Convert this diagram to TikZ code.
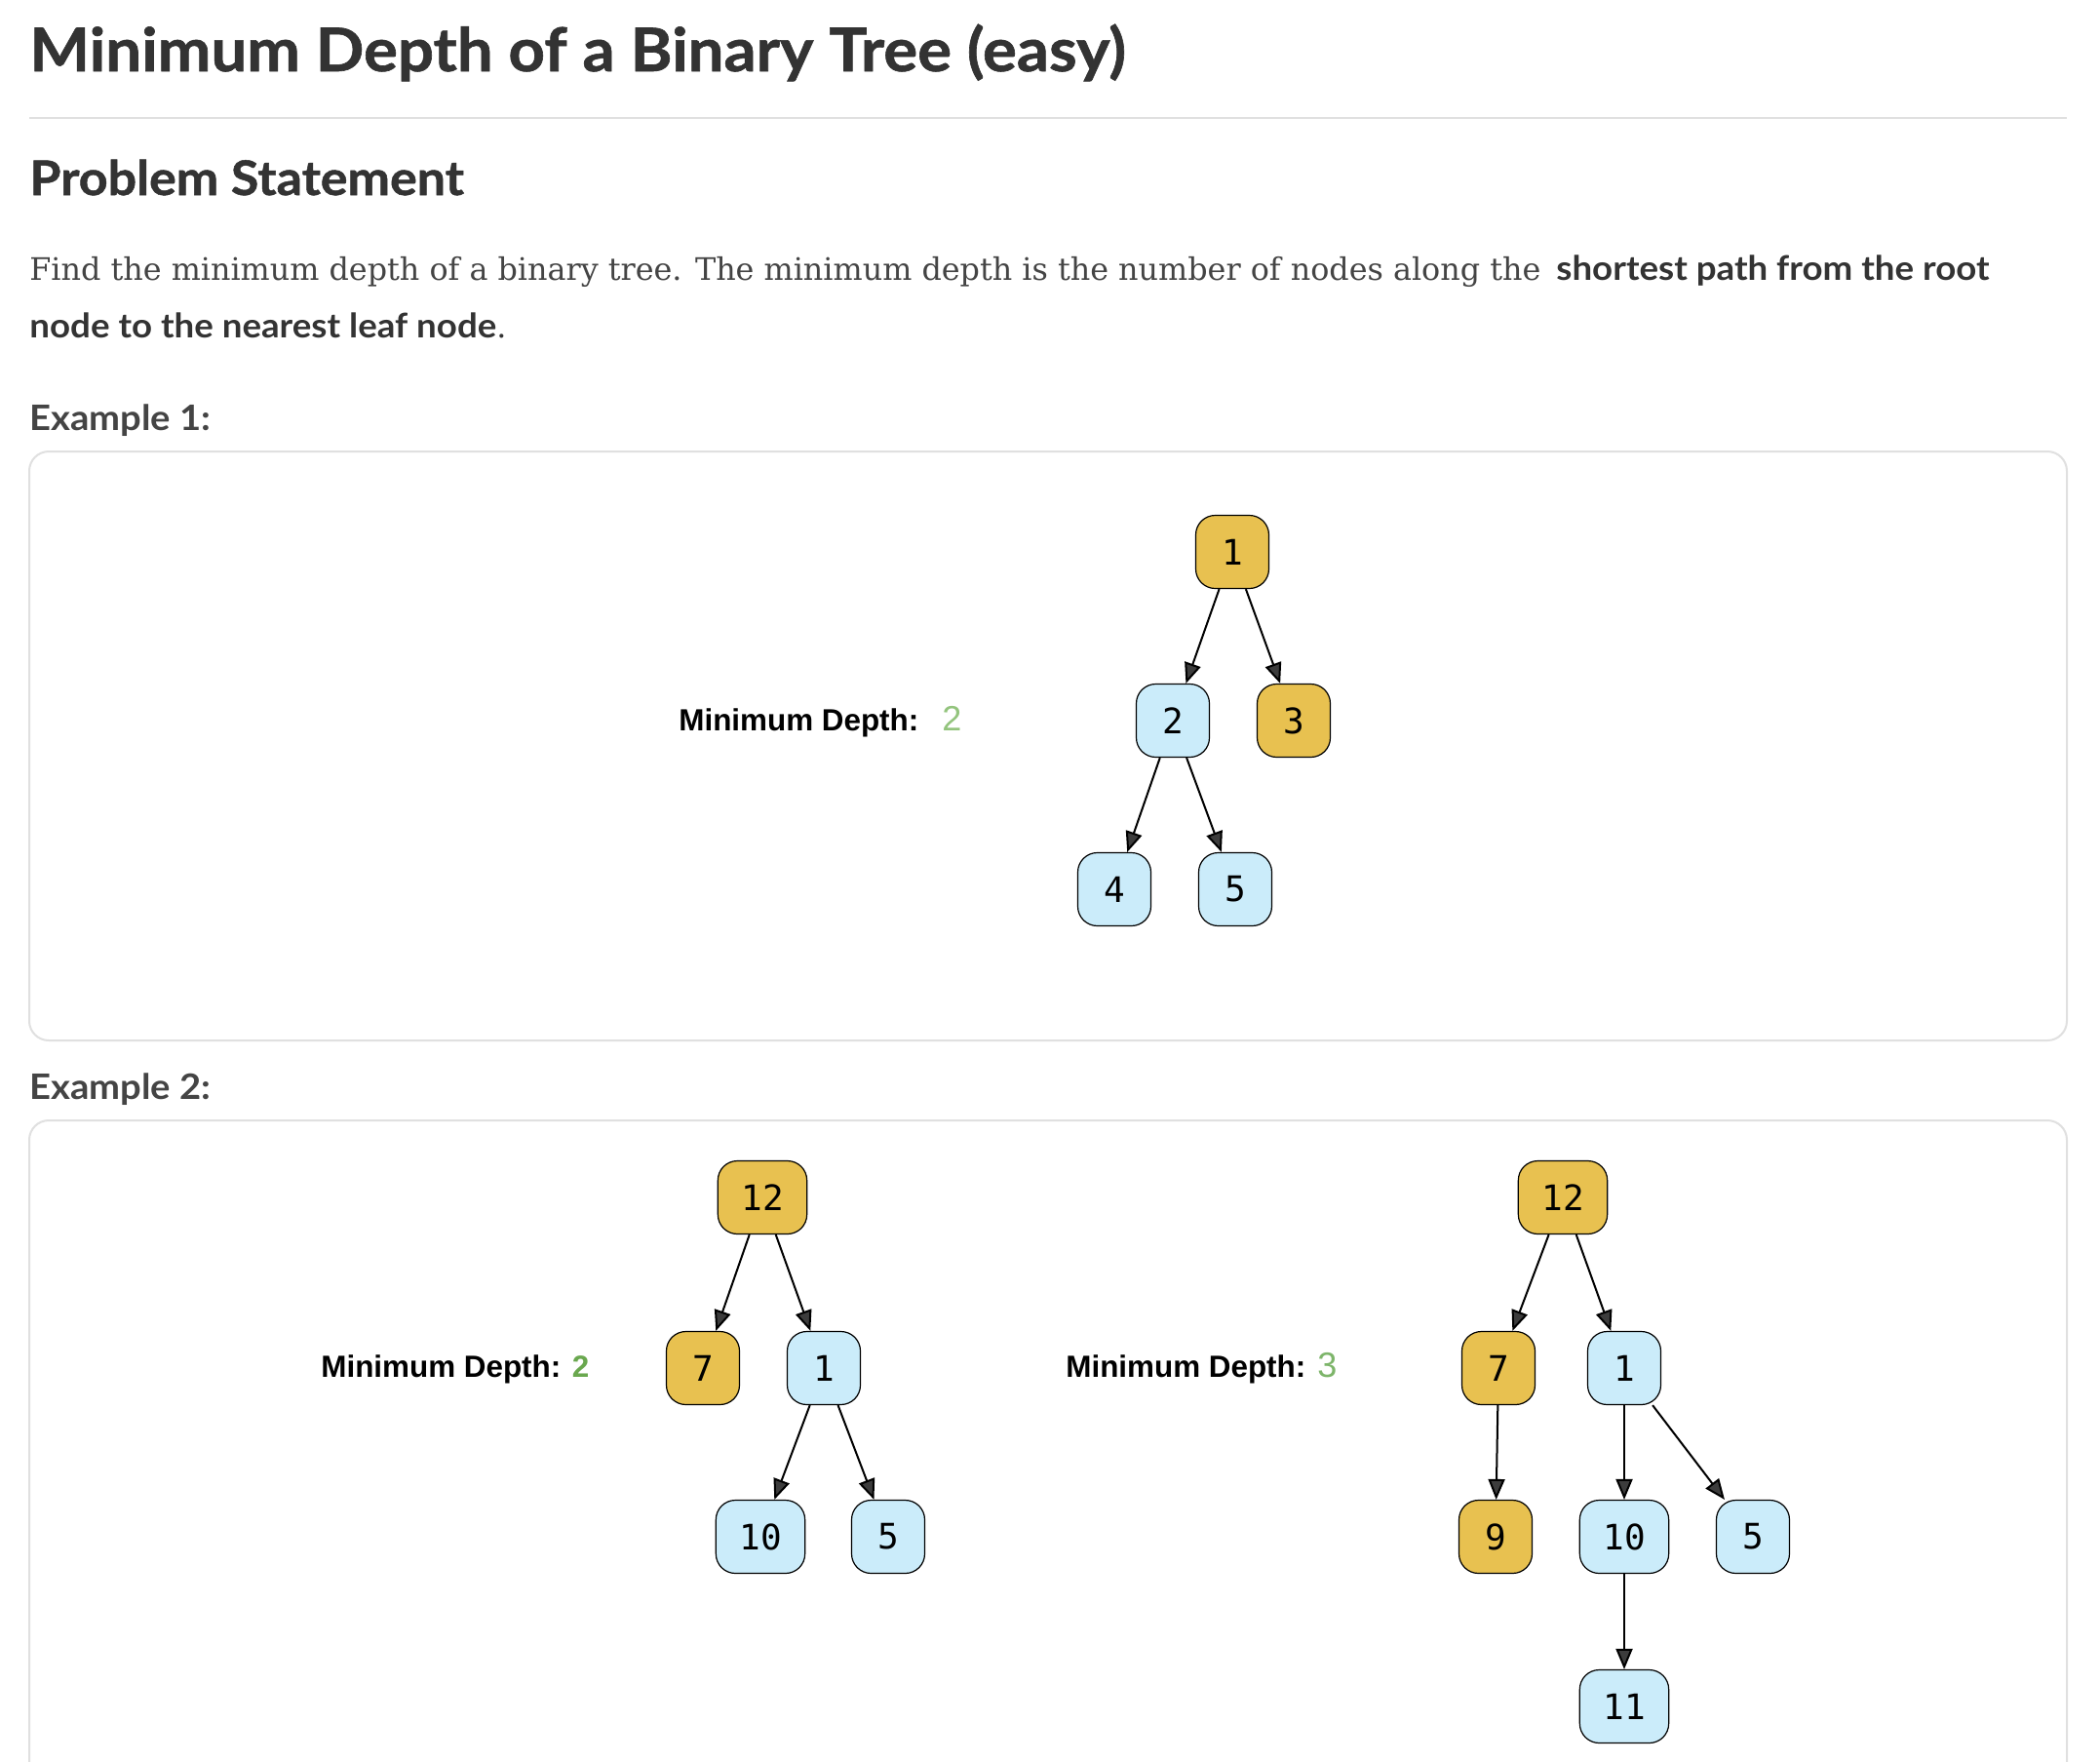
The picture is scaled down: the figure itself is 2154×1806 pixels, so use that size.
\documentclass[tikz,border=0pt]{standalone}
\usepackage{fontspec}
\setmainfont{DejaVu Serif}
\newfontfamily\latoW{Lato}[FakeStretch=1.06]
\newfontfamily\latoH{Lato}[FakeStretch=1.06, BoldFeatures={FakeBold=1}]
\newfontfamily\arial{Liberation Sans}
\newfontfamily\mono{DejaVu Sans Mono}
\usetikzlibrary{arrows.meta}
\definecolor{gold}{HTML}{E8C150}
\definecolor{sky}{HTML}{CBECFA}
\definecolor{ink}{HTML}{333333}
\definecolor{tipc}{HTML}{3C3C3C}
\definecolor{para}{HTML}{444444}
\definecolor{rulec}{HTML}{E0E0E0}
\definecolor{greenA}{HTML}{93C47D}
\definecolor{greenB}{HTML}{6AA84F}
\definecolor{greenC}{HTML}{7DB56A}
\begin{document}
\begin{tikzpicture}[x=0.5pt,y=-0.5pt,
  tn/.style={draw=black, line width=0.6pt, rounded corners=10pt,
    minimum width=37.5pt, minimum height=37.5pt, inner xsep=12pt, inner ysep=0pt,
    font=\mono\fontsize{18}{18}\selectfont, text=black},
  gn/.style={tn, fill=gold},
  bn/.style={tn, fill=sky},
  edge/.style={draw=black, line width=1pt,
    -{Triangle[length=10.5pt,width=8.5pt,fill=tipc]}},
  txt/.style={anchor=base west, inner sep=0pt},
  card/.style={draw=rulec, line width=1pt, rounded corners=10pt},
  lbl/.style={txt, font=\arial\bfseries\fontsize{15.7}{18}\selectfont, text=black}
]
\useasboundingbox (0,0) rectangle (2154,1806);
\fill[white] (0,0) rectangle (2154,1806);
\clip (0,0) rectangle (2154,1806);

% headings
\node[txt, text=ink, font=\latoH\bfseries\fontsize{30.8}{36}\selectfont] (title) at (30,73) {Minimum Depth of a Binary Tree (easy)};
\draw[rulec, line width=1pt] (30,121) -- (2120,121);
\node[txt, text=ink, font=\latoH\bfseries\fontsize{24.5}{28}\selectfont] (ps) at (30,200) {Problem Statement};
\node[txt, text=para, font=\fontsize{15.9}{18}\selectfont] (p1) at (30,287) {Find the minimum depth of a binary tree. The minimum depth is the number of nodes along the};
\node[txt, text=ink, font=\latoW\bfseries\fontsize{17.3}{18}\selectfont] (p1b) at (1596,287) {shortest path from the root};
\node[txt, text=ink, font=\latoW\bfseries\fontsize{17.3}{18}\selectfont] (p2) at (30,346) {node to the nearest leaf node{\rmfamily\mdseries\fontsize{15.9}{18}\selectfont .}};
\node[txt, text=para, font=\latoW\bfseries\fontsize{18}{20}\selectfont] (ex1) at (30,441) {Example 1:};
\node[txt, text=para, font=\latoW\bfseries\fontsize{18}{20}\selectfont] (ex2) at (30,1127) {Example 2:};

% cards
\draw[card] (30,463) rectangle (2120,1067);
\draw[card] (30,1149) rectangle (2120,1900);

% Example 1
\node[lbl] (l1) at (696,749) {Minimum Depth:};
\node[txt, font=\arial\fontsize{18}{20}\selectfont, text=greenA] (v1) at (966,749) {2};
\node[gn] (n1) at (1264,566) {1};
\node[bn] (n2) at (1203,739) {2};
\node[gn] (n3) at (1327,739) {3};
\node[bn] (n4) at (1143,912) {4};
\node[bn] (n5) at (1267,912) {5};
\draw[edge] (n1) -- (n2);
\draw[edge] (n1) -- (n3);
\draw[edge] (n2) -- (n4);
\draw[edge] (n2) -- (n5);

% Example 2 left
\node[lbl] (l2) at (329,1412) {Minimum Depth: {\color{greenB}2}};
\node[gn] (a12) at (782,1228) {12};
\node[gn] (a7) at (721,1403) {7};
\node[bn] (a1) at (845,1403) {1};
\node[bn] (a10) at (780,1576) {10};
\node[bn] (a5) at (911,1576) {5};
\draw[edge] (a12) -- (a7);
\draw[edge] (a12) -- (a1);
\draw[edge] (a1) -- (a10);
\draw[edge] (a1) -- (a5);

% Example 2 right
\node[lbl] (l3) at (1093,1412) {Minimum Depth:};
\node[txt, font=\arial\fontsize{18}{20}\selectfont, text=greenC] (v3) at (1351,1412) {3};
\node[gn] (b12) at (1603,1228) {12};
\node[gn] (b7) at (1537,1403) {7};
\node[bn] (b1) at (1666,1403) {1};
\node[gn] (b9) at (1534,1576) {9};
\node[bn] (b10) at (1666,1576) {10};
\node[bn] (b5) at (1798,1576) {5};
\node[bn] (b11) at (1666,1750) {11};
\draw[edge] (b12) -- (b7);
\draw[edge] (b12) -- (b1);
\draw[edge] (b7) -- (b9);
\draw[edge] (b1) -- (b10);
\draw[edge] (b1) -- (b5);
\draw[edge] (b10) -- (b11);
\end{tikzpicture}
\end{document}
